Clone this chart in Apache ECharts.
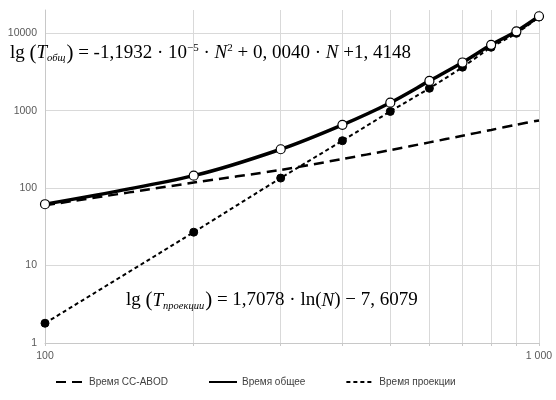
<!DOCTYPE html>
<html>
<head>
<meta charset="utf-8">
<script src="https://cdn.jsdelivr.net/npm/echarts@6/dist/echarts.min.js"></script>
<style>
html,body{margin:0;padding:0;background:#fff;}
#chart{width:556px;height:400px;}
</style>
</head>
<body>
<div id="chart"></div>
<script>
// Data
const nValues = [100, 200, 300, 400, 500, 600, 700, 800, 900, 1000];
const timeCCABOD = [60, 118, 172, 238, 310, 390, 475, 565, 660, 750];
const timeTotal = [62, 145, 318, 658, 1270, 2430, 4200, 7100, 10600, 16600];
const timeProjection = [1.8, 27, 135, 410, 980, 1950, 3650, 6600, 10000, 16200];
const xTickValues = [100, 200, 300, 400, 500, 600, 700, 800, 900, 1000];
const yTickValues = [1, 10, 100, 1000, 10000];
const seriesNames = ['Время CC-ABOD', 'Время общее', 'Время проекции'];

const pairs = (ys) => nValues.map((n, i) => [n, ys[i]]);

const chart = echarts.init(document.getElementById('chart'), null, {renderer: 'canvas'});

const eqFont = '"Liberation Serif", "DejaVu Serif", serif';
const rich = {
  b: {fontFamily: eqFont, fontSize: 19, color: '#1a1a1a', lineHeight: 28, verticalAlign: 'middle'},
  p: {fontFamily: eqFont, fontSize: 21, color: '#1a1a1a', lineHeight: 28, verticalAlign: 'middle'},
  it: {fontFamily: eqFont, fontSize: 19, fontStyle: 'italic', color: '#1a1a1a', lineHeight: 28, verticalAlign: 'middle'},
  sub: {fontFamily: eqFont, fontSize: 10.5, fontStyle: 'italic', color: '#1a1a1a', lineHeight: 28, verticalAlign: 'bottom', padding: [0, 1, 3, 0]},
  sup: {fontFamily: eqFont, fontSize: 11, color: '#1a1a1a', lineHeight: 28, verticalAlign: 'top', padding: [4, 0, 0, 0]}
};

const option = {
  animation: false,
  backgroundColor: '#fff',
  grid: {left: 45, right: 17, top: 10, bottom: 57, containLabel: false},
  xAxis: {
    type: 'log',
    logBase: 10,
    min: 100,
    max: 1000,
    axisLine: {show: true, lineStyle: {color: '#c8c8c8', width: 1}},
    axisTick: {show: true, customValues: xTickValues, length: 3, inside: false, lineStyle: {color: '#c8c8c8'}},
    axisLabel: {
      color: '#595959', fontFamily: 'Liberation Sans, Arial, sans-serif', fontSize: 10.5, margin: 8,
      formatter: (v) => v >= 1000 ? String(v).replace(/\B(?=(\d{3})+(?!\d))/g, ' ') : String(v)
    },
    splitLine: {show: true, lineStyle: {color: '#d9d9d9', width: 1}}
  },
  yAxis: {
    type: 'log',
    logBase: 10,
    min: 1,
    max: 20000,
    axisLine: {show: true, lineStyle: {color: '#c8c8c8', width: 1}},
    axisTick: {show: false},
    axisLabel: {
      color: '#595959', fontFamily: 'Liberation Sans, Arial, sans-serif', fontSize: 10.5, margin: 8,
      customValues: yTickValues,
      formatter: (v) => String(v)
    },
    splitLine: {show: true, showMaxLine: false, lineStyle: {color: '#d9d9d9', width: 1}}
  },
  legend: {
    bottom: 8,
    left: 50,
    itemGap: 40,
    itemWidth: 28,
    itemHeight: 10,
    itemStyle: {opacity: 0},
    textStyle: {color: '#404040', fontFamily: 'Liberation Sans, Arial, sans-serif', fontSize: 10},
    data: seriesNames
  },
  series: [
    {
      name: seriesNames[2],
      type: 'line',
      data: pairs(timeProjection),
      smooth: 0.3,
      symbol: 'circle',
      symbolSize: 8,
      itemStyle: {color: '#000', borderColor: '#000', borderWidth: 1},
      lineStyle: {color: '#000', width: 2, type: [4, 3]},
      z: 2
    },
    {
      name: seriesNames[0],
      type: 'line',
      data: pairs(timeCCABOD),
      smooth: 0.3,
      showSymbol: false,
      symbol: 'none',
      itemStyle: {color: '#000'},
      lineStyle: {color: '#000', width: 2.5, type: [10, 6]},
      z: 3
    },
    {
      name: seriesNames[1],
      type: 'line',
      data: pairs(timeTotal),
      smooth: 0.3,
      symbol: 'circle',
      symbolSize: 9,
      itemStyle: {color: '#fff', borderColor: '#000', borderWidth: 1.2},
      lineStyle: {color: '#000', width: 3.5},
      z: 4
    }
  ],
  graphic: [
    {
      type: 'text',
      left: 10,
      top: 39,
      z: 10,
      style: {
        text: '{b|lg }{p|(}{it|T}{sub|общ}{p|)}{b| = -1,1932 · 10}{sup|−5}{b| · }{it|N}{sup|2}{b| + 0, 0040 · }{it|N}{b| +1, 4148}',
        rich: rich
      }
    },
    {
      type: 'text',
      left: 126,
      top: 290,
      z: 10,
      style: {
        text: '{b|lg }{p|(}{it|T}{sub|проекции}{p|)}{b| = 1,7078 · ln(}{it|N}{b|) − 7, 6079}',
        rich: rich
      }
    }
  ]
};

chart.setOption(option);
</script>
</body>
</html>
